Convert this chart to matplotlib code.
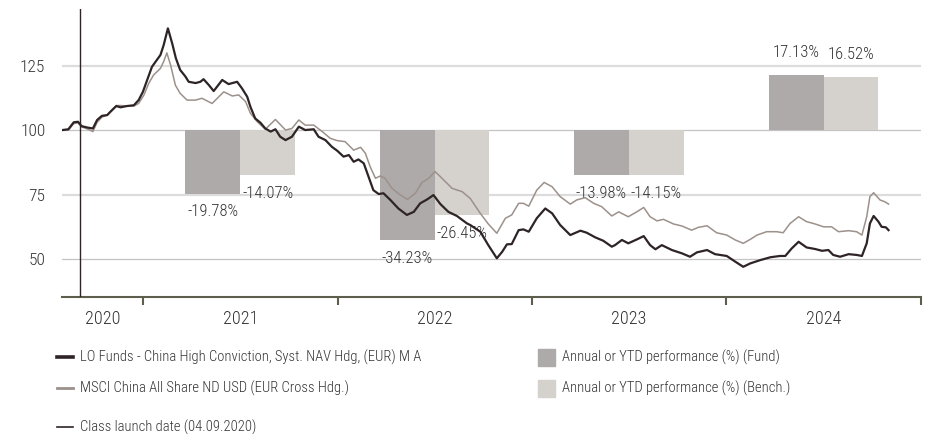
import numpy as np
import pandas as pd
import matplotlib
matplotlib.use('Agg')
import matplotlib.pyplot as plt
import matplotlib.dates as mdates
from matplotlib.lines import Line2D
from matplotlib.patches import Rectangle

plt.rcParams['font.family'] = ['Roboto Condensed', 'Liberation Sans', 'DejaVu Sans']
plt.rcParams['font.weight'] = 'light'

# fund NAV (rebased to 100)
fund_dates = ['2020-08-02', '2020-08-13', '2020-08-23', '2020-08-31', '2020-09-07', '2020-09-17',
              '2020-09-28', '2020-10-06', '2020-10-15', '2020-10-25', '2020-10-31', '2020-11-11',
              '2020-11-19', '2020-12-01', '2020-12-14', '2020-12-23', '2020-12-31', '2021-01-08',
              '2021-01-17', '2021-01-24', '2021-02-02', '2021-02-08', '2021-02-16', '2021-02-24',
              '2021-03-03', '2021-03-11', '2021-03-21', '2021-03-27', '2021-04-09', '2021-04-18',
              '2021-04-24', '2021-05-04', '2021-05-13', '2021-05-29', '2021-06-10', '2021-06-26',
              '2021-07-05', '2021-07-15', '2021-07-21', '2021-07-30', '2021-08-09', '2021-08-18',
              '2021-08-28', '2021-09-06', '2021-09-15', '2021-09-25', '2021-10-07', '2021-10-20',
              '2021-11-01', '2021-11-17', '2021-11-26', '2021-12-09', '2021-12-21', '2021-12-31',
              '2022-01-12', '2022-01-22', '2022-01-31', '2022-02-09', '2022-02-19', '2022-02-28',
              '2022-03-09', '2022-03-19', '2022-03-28', '2022-04-10', '2022-04-25', '2022-05-11',
              '2022-05-24', '2022-06-05', '2022-06-18', '2022-06-30', '2022-07-13', '2022-07-28',
              '2022-08-13', '2022-09-01', '2022-09-07', '2022-09-26', '2022-10-11', '2022-10-27',
              '2022-11-06', '2022-11-15', '2022-11-24', '2022-12-07', '2022-12-16', '2022-12-26',
              '2023-01-10', '2023-01-26', '2023-02-08', '2023-02-23', '2023-03-14', '2023-04-02',
              '2023-04-14', '2023-04-30', '2023-05-15', '2023-05-31', '2023-06-06', '2023-06-19',
              '2023-07-01', '2023-07-17', '2023-07-30', '2023-08-11', '2023-08-21', '2023-09-02',
              '2023-09-21', '2023-10-10', '2023-10-25', '2023-11-07', '2023-11-26', '2023-12-11',
              '2024-01-02', '2024-01-18', '2024-02-02', '2024-02-15', '2024-03-05', '2024-03-24',
              '2024-04-11', '2024-04-21', '2024-05-03', '2024-05-16', '2024-05-31', '2024-06-16',
              '2024-06-29', '2024-07-11', '2024-07-20', '2024-08-02', '2024-08-18', '2024-09-02',
              '2024-09-12', '2024-09-21', '2024-09-27', '2024-10-04', '2024-10-13', '2024-10-19',
              '2024-10-27', '2024-11-01']
fund_vals = [100.0, 100.3, 103.0, 103.2, 101.5, 101.0,
             100.6, 103.9, 105.5, 105.8, 107.1, 109.3,
             108.8, 109.3, 109.6, 111.6, 114.8, 119.4,
             124.5, 126.5, 129.1, 132.9, 139.4, 133.6,
             127.8, 123.3, 120.7, 118.7, 118.2, 118.7,
             119.7, 117.4, 115.1, 119.4, 117.8, 118.7,
             116.2, 112.9, 109.0, 104.5, 102.8, 100.6,
             99.4, 100.3, 97.4, 96.1, 97.4, 101.3,
             100.0, 100.3, 97.4, 96.1, 93.5, 92.0,
             89.7, 90.3, 87.7, 88.6, 87.1, 81.9,
             76.7, 75.2, 75.5, 72.9, 69.6, 67.1,
             68.3, 71.6, 73.1, 74.8, 71.3, 68.3,
             66.7, 63.8, 63.2, 60.6, 55.4, 50.3,
             52.8, 55.7, 55.8, 61.2, 61.5, 60.6,
             65.8, 69.6, 67.7, 63.2, 59.3, 61.0,
             60.2, 58.4, 57.1, 54.8, 55.4, 57.4,
             56.1, 57.6, 58.9, 55.4, 53.8, 55.4,
             53.5, 52.2, 50.9, 52.6, 53.5, 51.9,
             51.2, 49.0, 47.0, 48.3, 49.6, 50.7,
             51.2, 51.2, 54.1, 56.7, 54.5, 53.9,
             53.2, 53.5, 51.6, 50.9, 51.9, 51.6,
             51.2, 56.1, 63.8, 66.7, 64.5, 62.5,
             62.3, 61.2]

# benchmark (rebased to 100)
bench_dates = ['2020-08-02', '2020-08-13', '2020-08-23', '2020-08-31', '2020-09-07', '2020-09-17',
               '2020-09-28', '2020-10-06', '2020-10-15', '2020-10-25', '2020-10-31', '2020-11-11',
               '2020-11-19', '2020-12-01', '2020-12-14', '2020-12-23', '2021-01-02', '2021-01-11',
               '2021-01-20', '2021-02-02', '2021-02-08', '2021-02-14', '2021-02-21', '2021-03-02',
               '2021-03-11', '2021-03-24', '2021-04-09', '2021-04-21', '2021-05-10', '2021-06-01',
               '2021-06-17', '2021-06-29', '2021-07-12', '2021-07-21', '2021-08-03', '2021-08-18',
               '2021-09-06', '2021-09-25', '2021-10-07', '2021-10-20', '2021-11-01', '2021-11-17',
               '2021-12-03', '2021-12-18', '2021-12-31', '2022-01-15', '2022-01-31', '2022-02-13',
               '2022-02-22', '2022-03-03', '2022-03-13', '2022-03-22', '2022-03-31', '2022-04-13',
               '2022-04-29', '2022-05-12', '2022-05-27', '2022-06-08', '2022-06-21', '2022-07-03',
               '2022-07-16', '2022-08-04', '2022-08-23', '2022-09-07', '2022-09-26', '2022-10-11',
               '2022-10-27', '2022-11-12', '2022-11-24', '2022-12-07', '2022-12-16', '2022-12-26',
               '2023-01-10', '2023-01-24', '2023-02-08', '2023-02-23', '2023-03-14', '2023-03-26',
               '2023-04-11', '2023-04-27', '2023-05-12', '2023-05-31', '2023-06-13', '2023-07-01',
               '2023-07-17', '2023-07-30', '2023-08-11', '2023-08-24', '2023-09-05', '2023-09-24',
               '2023-10-10', '2023-10-28', '2023-11-10', '2023-11-26', '2023-12-14', '2024-01-02',
               '2024-01-18', '2024-02-02', '2024-02-15', '2024-02-28', '2024-03-17', '2024-04-05',
               '2024-04-17', '2024-04-30', '2024-05-16', '2024-05-31', '2024-06-16', '2024-07-02',
               '2024-07-17', '2024-07-30', '2024-08-18', '2024-09-02', '2024-09-12', '2024-09-21',
               '2024-09-27', '2024-10-04', '2024-10-16', '2024-10-25', '2024-11-01']
bench_vals = [100.0, 100.0, 102.5, 102.8, 101.2, 100.5,
              99.4, 103.0, 105.0, 105.8, 107.0, 109.5,
              109.5, 109.3, 109.3, 110.3, 113.6, 118.1,
              121.3, 123.9, 126.5, 129.9, 125.2, 117.4,
              114.2, 111.6, 111.6, 112.3, 110.3, 114.8,
              113.2, 113.6, 111.0, 106.5, 103.2, 100.3,
              104.1, 100.0, 100.6, 103.9, 101.9, 101.9,
              99.4, 96.8, 95.9, 95.5, 92.2, 93.3,
              91.0, 85.8, 81.3, 82.2, 81.3, 77.4,
              74.8, 73.1, 75.5, 79.6, 81.3, 83.9,
              81.3, 77.4, 76.1, 73.5, 67.7, 63.6,
              60.0, 65.8, 67.1, 71.6, 71.6, 70.5,
              76.7, 79.7, 78.0, 74.2, 71.3, 72.9,
              73.8, 71.6, 70.3, 66.7, 68.3, 66.4,
              68.3, 70.0, 66.4, 64.8, 65.4, 63.6,
              62.8, 61.2, 62.3, 62.9, 60.2, 59.3,
              57.4, 56.1, 57.6, 59.3, 60.6, 60.6,
              60.2, 63.8, 66.4, 64.5, 63.6, 62.5,
              62.5, 60.6, 61.0, 60.6, 59.3, 66.4,
              74.2, 75.7, 72.9, 72.2, 71.3]

# annual / YTD performance bars
perf_years = [2021, 2022, 2023, 2024]
fund_perf = [-19.78, -34.23, -13.98, 17.13]
bench_perf = [-14.07, -26.45, -14.15, 16.52]

launch_date = '2020-09-04'
year_labels = ['2020', '2021', '2022', '2023', '2024']

c_fund = '#2e2426'
c_bench = '#9c918b'
c_fund_bar = '#aeaaa9'
c_bench_bar = '#d5d1cd'
c_text = '#333333'
c_axis = '#5e5e4c'

fig = plt.figure(figsize=(9.28, 4.34), dpi=100)
ax = fig.add_axes([62/928, 1 - 297/434, 859/928, 288/434])
ax_bar = ax.twinx()
ax_line = ax.twinx()

ylo, yhi = 35.3, 146.9
k = 1.245  # 1% of performance in index points
ax.set_ylim(ylo, yhi)
ax_line.set_ylim(ylo, yhi)
ax_bar.set_ylim((ylo - 100) / k, (yhi - 100) / k)
xmin, xmax = pd.Timestamp('2020-08-01'), pd.Timestamp('2025-01-01')
ax.set_xlim(xmin, xmax)

# grid
ax.set_yticks([50, 75, 100, 125])
ax.yaxis.grid(True)
for v, gl in zip([50, 75, 100, 125], ax.get_ygridlines()):
    if v in (75, 125):
        gl.set_color('#dcdcdc'); gl.set_linewidth(1.6)
    else:
        gl.set_color('#c4c4c4'); gl.set_linewidth(0.9)
ax.tick_params(axis='y', length=0, pad=12, labelsize=12.5, labelcolor=c_text)

# bars
mids = mdates.date2num(pd.to_datetime([f'{y}-07-02' for y in perf_years]))
w = 103
ax_bar.bar(mids, fund_perf, width=-w, align='edge', color=c_fund_bar, zorder=2)
ax_bar.bar(mids, bench_perf, width=w, align='edge', color=c_bench_bar, zorder=2)
for m, fv, bv in zip(mids, fund_perf, bench_perf):
    for xc, v in ((m - w / 2, fv), (m + w / 2, bv)):
        off = 16.5 if v > 0 else -13
        ax_bar.annotate(f'{v:.2f}%', (xc, v), xytext=(0, off), textcoords='offset points',
                        ha='center', va='center', fontsize=12, color=c_text)

# lines
ax_line.plot(pd.to_datetime(bench_dates), bench_vals, color=c_bench, lw=1.1)
ax_line.plot(pd.to_datetime(fund_dates), fund_vals, color=c_fund, lw=1.6)
ax_line.axvline(pd.Timestamp(launch_date), color=c_fund, lw=1.0)

for a in (ax_bar, ax_line):
    a.set_yticks([])
    for s in a.spines.values():
        s.set_visible(False)
    a.set_xlim(xmin, xmax)

for s in ('top', 'right', 'left'):
    ax.spines[s].set_visible(False)
ax.spines['bottom'].set_color(c_axis)
ax.spines['bottom'].set_linewidth(1.5)

# x axis: year boundaries as ticks, year names in between
ax.set_xticks(pd.to_datetime(['2021-01-01', '2022-01-01', '2023-01-01', '2024-01-01', '2025-01-01']))
ax.set_xticklabels([])
ax.set_xticks(pd.to_datetime(['2020-10-16', '2021-07-02', '2022-07-02', '2023-07-02', '2024-07-02']),
              minor=True)
ax.set_xticklabels(year_labels, minor=True)
ax.tick_params(axis='x', which='major', length=6, width=1.5, color=c_axis)
ax.tick_params(axis='x', which='minor', length=0, pad=9, labelsize=13, labelcolor=c_text)

# legend (drawn by hand to follow the two-column layout)
def fx(px):
    return px / 928

def fy(py):
    return 1 - py / 434

lfs = 10.5
fig.add_artist(Line2D([fx(57), fx(73)], [fy(357)] * 2, color=c_fund, lw=2.6, transform=fig.transFigure))
fig.text(fx(80), fy(357), 'LO Funds - China High Conviction, Syst. NAV Hdg, (EUR) M A',
         va='center', fontsize=lfs, color=c_text)
fig.add_artist(Line2D([fx(57), fx(73)], [fy(388)] * 2, color=c_bench, lw=2.0, transform=fig.transFigure))
fig.text(fx(80), fy(388), 'MSCI China All Share ND USD (EUR Cross Hdg.)',
         va='center', fontsize=lfs, color=c_text)
fig.add_artist(Line2D([fx(57), fx(73)], [fy(427)] * 2, color=c_fund, lw=1.2, transform=fig.transFigure))
fig.text(fx(80), fy(427), 'Class launch date (04.09.2020)',
         va='center', fontsize=lfs, color=c_text)
fig.add_artist(Rectangle((fx(538), fy(366)), fx(17), 17 / 434, color=c_fund_bar, transform=fig.transFigure))
fig.text(fx(562), fy(357), 'Annual or YTD performance (%) (Fund)', va='center', fontsize=lfs, color=c_text)
fig.add_artist(Rectangle((fx(538), fy(397)), fx(17), 17 / 434, color=c_bench_bar, transform=fig.transFigure))
fig.text(fx(562), fy(388), 'Annual or YTD performance (%) (Bench.)', va='center', fontsize=lfs, color=c_text)

fig.savefig('out.png', dpi=100)
